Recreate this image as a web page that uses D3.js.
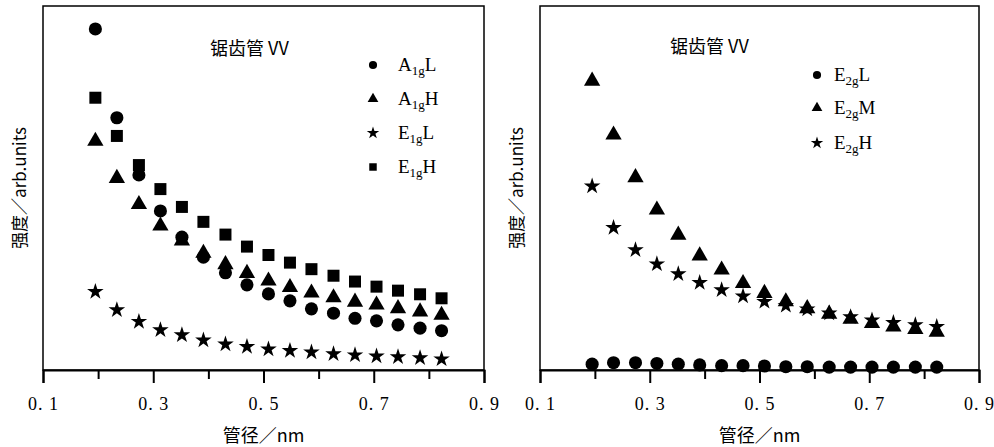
<!DOCTYPE html>
<html>
<head>
<meta charset="utf-8">
<script src="https://cdn.jsdelivr.net/npm/d3@7"></script>
<style>
  body { margin: 0; background: #fff; }
  text { fill: #000; }
</style>
</head>
<body>
<div id="chart"></div>
<script>
// tube diameters (nm)
var diameters = [0.195, 0.234, 0.274, 0.313, 0.352, 0.391, 0.431, 0.470, 0.509,
                 0.548, 0.587, 0.627, 0.666, 0.705, 0.744, 0.784, 0.823];

// left panel intensities (arb. units)
var a1gL = [0.937, 0.693, 0.536, 0.437, 0.365, 0.310, 0.267, 0.234, 0.209,
            0.190, 0.168, 0.156, 0.142, 0.135, 0.124, 0.115, 0.108];
var a1gH = [0.629, 0.527, 0.455, 0.396, 0.355, 0.321, 0.290, 0.266, 0.245,
            0.227, 0.212, 0.199, 0.187, 0.179, 0.169, 0.160, 0.151];
var e1gL = [0.215, 0.165, 0.133, 0.110, 0.096, 0.082, 0.071, 0.064, 0.057,
            0.053, 0.049, 0.044, 0.041, 0.038, 0.036, 0.033, 0.030];
var e1gH = [0.748, 0.643, 0.563, 0.497, 0.448, 0.407, 0.372, 0.339, 0.316,
            0.295, 0.277, 0.259, 0.243, 0.229, 0.218, 0.208, 0.197];

// right panel intensities (arb. units)
var e2gL = [0.016, 0.020, 0.020, 0.018, 0.016, 0.014, 0.012, 0.012, 0.011,
            0.009, 0.009, 0.008, 0.008, 0.008, 0.008, 0.008, 0.008];
var e2gM = [0.794, 0.646, 0.529, 0.440, 0.371, 0.314, 0.275, 0.238, 0.211,
            0.188, 0.169, 0.154, 0.140, 0.128, 0.119, 0.112, 0.104];
var e2gH = [0.505, 0.391, 0.330, 0.291, 0.264, 0.240, 0.220, 0.203, 0.188,
            0.177, 0.167, 0.156, 0.146, 0.137, 0.130, 0.124, 0.119];

var xTicks = [0.1, 0.3, 0.5, 0.7, 0.9];
var xMinorTicks = [0.2, 0.4, 0.6, 0.8];
var title = "锯齿管 VV";
var xLabel = "管径／nm";
var yLabel = "强度／arb.units";

var serif = "'Liberation Serif', 'DejaVu Serif', serif";
var cjk = "'Noto Sans CJK SC', sans-serif";

var svg = d3.select("#chart")
  .append("svg")
    .attr("width", 994)
    .attr("height", 447);

var symbols = {
  circle: d3.symbolCircle,
  triangle: d3.symbolTriangle,
  star: d3.symbolStar,
  square: d3.symbolSquare
};
var plotSize = {circle: 135, triangle: 115, star: 85, square: 144};
var legSize = {circle: 52, triangle: 50, star: 48, square: 56};

var panels = [
  {left: 43, right: 484,
   legendX: 373, legendText: 398, legendY: [65, 99, 133, 167],
   titleX: 210, titleY: 55,
   series: [
     {name: "A", sub: "1g", tail: "L", shape: "circle", values: a1gL},
     {name: "A", sub: "1g", tail: "H", shape: "triangle", values: a1gH},
     {name: "E", sub: "1g", tail: "L", shape: "star", values: e1gL},
     {name: "E", sub: "1g", tail: "H", shape: "square", values: e1gH}
   ]},
  {left: 540, right: 979,
   legendX: 817, legendText: 834, legendY: [75, 108, 143],
   titleX: 670, titleY: 53,
   series: [
     {name: "E", sub: "2g", tail: "L", shape: "circle", values: e2gL},
     {name: "E", sub: "2g", tail: "M", shape: "triangle", values: e2gM},
     {name: "E", sub: "2g", tail: "H", shape: "star", values: e2gH}
   ]}
];

var plotTop = 6, plotBottom = 370;

panels.forEach(function(p) {
  var x = d3.scaleLinear().domain([0.1, 0.9]).range([p.left, p.right]);
  var y = d3.scaleLinear().domain([0, 1]).range([plotBottom, plotTop]);

  // frame
  svg.append("rect")
    .attr("x", p.left).attr("y", plotTop)
    .attr("width", p.right - p.left).attr("height", plotBottom - plotTop)
    .attr("fill", "none").attr("stroke", "#000").attr("stroke-width", 1.5);

  // minor ticks
  svg.append("g")
    .attr("transform", "translate(0," + plotBottom + ")")
    .call(d3.axisBottom(x).tickValues(xMinorTicks).tickSize(9).tickFormat(""))
    .call(function(g) { g.select(".domain").remove(); })
    .selectAll("line").attr("stroke-width", 2);

  // major ticks + labels
  var ax = svg.append("g")
    .attr("transform", "translate(0," + plotBottom + ")")
    .call(d3.axisBottom(x).tickValues(xTicks).tickSize(13).tickPadding(14)
      .tickFormat(function(d) { return d3.format(".1f")(d).replace(".", ". "); }));
  ax.select(".domain").attr("stroke-width", 2);
  ax.selectAll("line").attr("stroke-width", 2);
  ax.selectAll("text")
    .attr("font-family", serif)
    .attr("font-size", 18)
    .style("letter-spacing", "1px")
    .attr("fill", "#000");

  // axis labels
  svg.append("text")
    .attr("x", (p.left + p.right) / 2)
    .attr("y", 442)
    .attr("text-anchor", "middle")
    .attr("font-family", cjk)
    .attr("font-size", 18)
    .text(xLabel);

  svg.append("text")
    .attr("transform", "translate(" + (p.left - 17) + "," + ((plotTop + plotBottom) / 2) + ") rotate(-90)")
    .attr("text-anchor", "middle")
    .attr("font-family", cjk)
    .attr("font-size", 17)
    .text(yLabel);

  // title
  svg.append("text")
    .attr("x", p.titleX)
    .attr("y", p.titleY)
    .attr("font-family", cjk)
    .attr("font-size", 18)
    .text(title);

  // points
  p.series.forEach(function(s, i) {
    svg.append("g").selectAll("path")
      .data(s.values)
      .enter()
      .append("path")
        .attr("transform", function(d, j) {
          return "translate(" + x(diameters[j]) + "," + y(d) + ")";
        })
        .attr("d", d3.symbol().type(symbols[s.shape]).size(plotSize[s.shape]))
        .attr("fill", "#000");

    // legend
    var ly = p.legendY[i];
    svg.append("path")
      .attr("transform", "translate(" + p.legendX + "," + ly + ")")
      .attr("d", d3.symbol().type(symbols[s.shape]).size(legSize[s.shape]))
      .attr("fill", "#000");
    var t = svg.append("text")
      .attr("x", p.legendText)
      .attr("y", ly + 6)
      .attr("font-family", serif)
      .attr("font-size", 19);
    t.append("tspan").text(s.name);
    t.append("tspan").attr("dy", 4).attr("font-size", 13).text(s.sub);
    t.append("tspan").attr("dy", -4).text(s.tail);
  });
});
</script>
</body>
</html>
